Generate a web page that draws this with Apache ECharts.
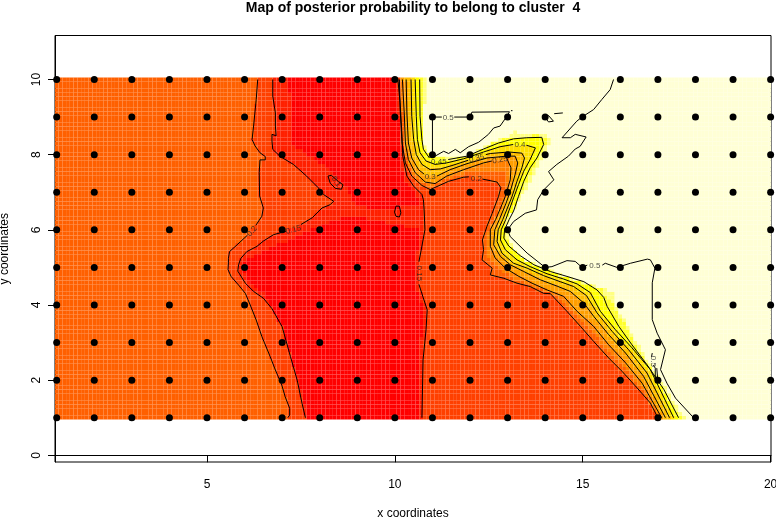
<!DOCTYPE html>
<html>
<head>
<meta charset="utf-8">
<title>Map of posterior probability</title>
<script src="https://cdn.jsdelivr.net/npm/echarts@6/dist/echarts.min.js"></script>
<style>
  html, body { margin: 0; padding: 0; background: #fff; }
  #chart { width: 776px; height: 518px; }
</style>
</head>
<body>
<div id="chart"></div>
<script>
// sampling sites
let siteX = [1, 2, 3, 4, 5, 6, 7, 8, 9, 10, 11, 12, 13, 14, 15, 16, 17, 18, 19, 20]
let siteY = [1, 2, 3, 4, 5, 6, 7, 8, 9, 10]
let xTicks = [5, 10, 15, 20]
let yTicks = [0, 2, 4, 6, 8, 10]

// contour lines, null = break for a label
let c15Left = [[6.75,10],[6.75,9.56],[6.82,9.11],[6.82,8.76],[6.84,8.5],[6.73,8.54],[6.73,8.36],[6.75,8.14],[6.95,7.95],[7.3,7.74],[7.65,7.43],[7.96,7.12],[8.1,6.94],[8.37,6.76],[8.28,6.67],[8.06,6.58],[7.8,6.32],[7.5,6.14],null,[7.1,5.96],[6.77,5.87],[6.5,5.7],[6.33,5.56],[6.06,5.42],[5.9,5.24],[5.84,5.07],[5.82,4.9],[6.02,4.58],[6.24,4.36],[6.5,4.18],[6.73,3.9],[7,3.42],[7.22,2.63],[7.4,2],[7.53,1.38],[7.62,1]]
let c20Left = [[6.35,10],[6.31,9.47],[6.24,8.76],[6.2,8.4],[6.28,8.23],[6.41,8.05],[6.55,7.95],[6.55,7.86],[6.41,7.86],[6.39,7.52],[6.4,6.9],[6.5,6.58],[6.46,6.36],[6.3,6.12],null,[6.08,5.86],[5.8,5.6],[5.6,5.42],[5.57,5.24],[5.57,5.12],[5.56,4.94],[5.64,4.76],[5.84,4.53],[6.02,4.31],[6.15,4],[6.31,3.6],[6.46,3.16],[6.68,2.63],[6.82,2.27],[6.99,1.87],[7.08,1.56],[7.2,1.25],[7.2,1.07],[7.15,1]]
let c15Right = [[10.08,10],[10.14,9.38],[10.19,8.49],[10.21,7.96],[10.32,7.43],[10.5,7.16],[10.72,6.94],[10.76,6.8],[10.78,6.5],[10.8,6],[10.7,5.46],[10.64,5.15],null,[10.64,4.55],[10.86,3.87],[10.83,3.34],[10.75,2.54],[10.72,1]]
let c20Right = [[10.12,10],[10.14,9.2],[10.19,8.31],[10.28,7.78],[10.45,7.43],[10.72,7.18],[10.94,7.07],[11.43,7.29],[11.83,7.4],[11.97,7.41],null,[12.33,7.35],[12.72,7.27],[12.82,7.12],[12.76,6.89],[12.59,6.44],[12.45,6.09],[12.33,5.73],[12.36,5.47],[12.32,5.2],[12.59,4.98],[12.54,4.8],[12.9,4.71],[13.25,4.58],[13.6,4.49],[13.96,4.31],[14.14,4.3],[14.58,3.83],[14.94,3.43],[15.29,3.03],[15.69,2.59],[16.05,2.23],[16.45,1.79],[16.8,1.39],[17,1]]
let c25 = [[10.2,10],[10.25,9.11],[10.28,8.31],[10.36,7.87],[10.54,7.52],[10.81,7.27],[11.07,7.23],[11.38,7.43],[11.83,7.6],[12.36,7.78],[12.58,7.83],null,[12.98,7.9],[13.03,7.91],[13.09,7.65],[13.07,7.33],[12.94,6.89],[12.85,6.67],[12.68,6.27],[12.54,6],[12.54,5.56],[12.67,5.25],[12.94,4.98],[13.3,4.76],[13.65,4.58],[14.05,4.4],[14.49,4.23],[14.85,3.83],[15.29,3.43],[15.69,2.94],[16.14,2.46],[16.58,1.92],[17.1,1]]
let c30 = [[10.3,10],[10.32,9.11],[10.36,8.31],[10.45,7.91],[10.63,7.6],[10.78,7.48],null,[11.12,7.43],[11.47,7.6],[11.92,7.76],[12.45,7.91],[12.98,7.96],[13.2,7.96],[13.27,7.78],[13.2,7.47],[13.07,7.02],[12.96,6.71],[12.78,6.27],[12.66,6],[12.63,5.6],[12.81,5.29],[13.07,5.07],[13.43,4.89],[13.87,4.67],[14.32,4.5],[14.67,4.36],[15.03,4.05],[15.29,3.7],[15.69,3.21],[16.14,2.72],[16.62,2.1],[17.2,1]]
let c35 = [[10.43,10],[10.45,9.02],[10.5,8.4],[10.57,8],[10.72,7.74],[10.94,7.6],[11.21,7.62],[11.52,7.71],[11.95,7.85],null,[12.42,8],[12.54,8.03],[13.03,8.07],[13.38,8.04],[13.45,7.91],[13.38,7.65],[13.25,7.29],[13.12,6.89],[12.87,6.27],[12.75,6],[12.72,5.69],[12.85,5.38],[13.16,5.11],[13.52,4.98],[13.96,4.78],[14.4,4.62],[14.76,4.49],[15.1,4.25],[15.38,3.79],[15.78,3.3],[16.22,2.81],[16.71,2.19],[17.31,1]]
let c40 = [[10.54,10],[10.57,9.02],[10.6,8.4],[10.67,8.05],[10.83,7.83],[11.07,7.74],[11.38,7.78],[11.83,7.89],[12.36,8.07],[12.8,8.21],[13.15,8.27],null,[13.5,8.25],[13.74,8.18],[13.6,7.87],[13.43,7.56],[13.29,7.2],[13.16,6.85],[12.95,6.27],[12.83,6],[12.81,5.73],[12.94,5.47],[13.25,5.2],[13.6,5.02],[14.05,4.83],[14.49,4.69],[14.85,4.56],[15.2,4.33],[15.47,3.83],[15.87,3.34],[16.31,2.86],[16.8,2.28],[17.42,1]]
let c45 = [[10.66,10],[10.67,9.02],[10.72,8.4],[10.76,8.14],[10.92,7.91],null,[11.42,7.87],[11.92,7.96],[12.36,8.15],[12.76,8.31],[13.16,8.42],[13.51,8.45],[13.91,8.46],[13.96,8.27],[13.78,7.91],[13.6,7.65],[13.43,7.29],[13.29,6.89],[13.16,6.5],[13.04,6.27],[12.92,6],[12.9,5.78],[13.03,5.57],[13.34,5.31],[13.7,5.07],[14.14,4.89],[14.58,4.76],[15.03,4.62],[15.38,4.4],[15.56,4.2],[15.65,3.96],[15.96,3.43],[16.31,2.94],[16.71,2.41],[17.16,1.75],[17.55,1]]
let c50Main = [[15.82,10],[15.73,9.73],[15.51,9.47],[15.29,9.2],[14.98,9],[14.84,8.89],[14.45,8.45],[14.45,8.43],[14.67,8.45],[14.8,8.54],[15.09,8.47],[14.93,8.22],[14.8,8.15],[14.62,7.96],[14.31,7.74],[14.09,7.55],[14.23,7.33],[13.96,7.06],[13.8,6.8],[13.77,6.53],[13.47,6.44],[13.16,6.22],[13,6],[13.07,5.82],[13.52,5.38],[14,5],[14.18,5.02],[14.58,5.18],[14.8,5.16],[14.98,5],[15.12,5.06],null,[15.52,5.06],[15.6,5.11],[15.91,5],[16.27,5.11],[16.72,5.22],[16.8,5.2],[16.92,4.98],[16.85,4.59],[16.85,3.61],[16.98,3.25],[17.2,2.81],[17.07,2.28],[17.24,1.92],[17.47,1.52],[17.95,1]]
let c50Box = [[11.25,9],[11,9],[11,8],[11.07,7.96],[11.3,8.09],[11.43,8.03],[11.61,8.14],[11.74,8.05],[11.96,8.21],[12.23,8.33],[12.49,8.54],[12.63,8.71],[12.8,8.76],[12.98,9.02],[13.05,9.14],[12.05,9.13],[12,9],[11.58,9]]
let c50Dot = [[13.09,9.17],[13.13,9.17]]
let c50Curl = [[14,9.02],[14.09,9.04],[14.22,8.89],[14.09,8.87],[14.02,8.96]]
let c50Dash = [[14.24,9.09],[14.47,9.11]]
let c50Small = [[16.85,2.72],[16.83,2.62],null,[16.88,2.4],[16.93,2.32],[16.93,2.08],[16.99,2.08],[16.97,2.32]]
let c10Curl = [[8.22,7.43],[8.31,7.45],[8.5,7.28],[8.62,7.2],[8.58,7.08],[8.42,7.1],[8.28,7.24],[8.22,7.43]]
let c15Loop = [[9.99,6.47],[10.03,6.63],[10.12,6.63],[10.16,6.45],[10.12,6.34],[10.03,6.36],[9.99,6.47]]

// colour edges that have no contour line
let edgeRedLeft = [[7.14,10],[7.26,9.29],[7.3,8.23],[8.01,7.78],[8.72,7.16],[8.95,6.58],[8.72,6.36],[8.01,6.1],[7.3,5.79],[6.42,5.39],[5.88,5.07],[6.06,4.67],[6.5,4.32],[6.9,3.6],[7.17,2.73],[7.44,2.02],[7.7,1]]
let edgeRedRight = [[10,10],[10.08,9.38],[10.12,8.49],[10.12,7.96],[10.22,7.43],[10.35,7.16],[10.6,6.9],[10.62,6.5],[10.7,6],[10.6,5.46],[10.55,5.15],[10.55,4.53],[10.75,3.87],[10.72,3.34],[10.65,2.54],[10.62,1]]
let edge225 = [[10.16,10],[10.2,9.11],[10.24,8.31],[10.32,7.82],[10.5,7.47],[10.77,7.22],[11,7.15],[11.4,7.36],[11.83,7.5],[12.36,7.56],[12.75,7.6],[12.95,7.55],[12.98,7.2],[12.9,6.85],[12.75,6.45],[12.58,6.1],[12.44,5.75],[12.45,5.5],[12.5,5.25],[12.75,4.98],[13.1,4.74],[13.45,4.58],[13.8,4.45],[14.15,4.32],[14.5,4.1],[14.9,3.63],[15.3,3.23],[15.7,2.77],[16.1,2.35],[16.5,1.86],[17.05,1]]
let edgeHaloIn = [[10.78,10],[10.7,8.76],[10.76,8.2],[10.98,7.93],[11.6,7.88],[12.15,8.04],[12.6,8.31],[13,8.45],[13.4,8.48],[13.85,8.52],[14.08,8.42],[13.95,8.12],[13.78,7.78],[13.55,7.34],[13.35,6.98],[13.2,6.63],[13,6.36],[12.95,6],[13.05,5.6],[13.45,5.2],[13.9,5],[14.45,4.78],[15,4.6],[15.5,4.42],[15.78,4.05],[16.05,3.6],[16.3,3.14],[16.58,2.65],[16.9,2.2],[17.25,1.57],[17.62,1]]
let edgeHaloOut = [[10.85,10],[10.75,8.76],[10.81,8.18],[11.03,7.96],[11.65,7.91],[12.18,8.09],[12.63,8.36],[13.03,8.51],[13.2,8.65],[13.38,8.51],[13.87,8.6],[14.2,8.45],[14.05,8.14],[13.87,7.78],[13.65,7.34],[13.43,6.98],[13.25,6.63],[13.03,6.36],[12.98,6],[13.12,5.56],[13.52,5.16],[13.96,5.02],[14.49,4.8],[15.03,4.62],[15.34,4.5],[15.83,4.36],[15.83,4.05],[16.09,3.65],[16.36,3.17],[16.62,2.68],[16.98,2.19],[17.33,1.57],[17.74,1]]
let patchMid = [[8.7,6.75],[9.4,6.55],[10.2,6.6],[10.7,6.7],[10.7,6],[10,6.15],[9.3,6.3],[8.8,6.35]]

// image colours, low to high
let bandColors = ['#FF0000', '#FF2000', '#FF4000', '#FF6000', '#FF8000', '#FF9F00', '#FFBF00', '#FFDF00', '#FFFF00', '#FFFF2A', '#FFFF80', '#FFFFD5']

// contour labels: x, y, text, rotation
let contourLabels = [
  [6.2, 5.96, '0.2', 50],
  [7.3, 6.0, '0.15', 15],
  [8.44, 7.28, '0.1', -55],
  [10.64, 4.84, '0.15', -90],
  [10.94, 7.41, '0.3', 0],
  [11.17, 7.82, '0.45', 0],
  [12.17, 7.36, '0.2', 0],
  [12.18, 7.9, '0.35', 15],
  [12.8, 7.86, '0.25', 10],
  [13.33, 8.25, '0.4', 0],
  [11.42, 8.98, '0.5', 0],
  [15.32, 5.03, '0.5', 0],
  [16.88, 2.5, '0.5', -90]
]

let contourLines = [c15Left, c20Left, c15Right, c20Right, c25, c30, c35, c40, c45, c50Main, c50Box, c50Dot, c50Curl, c50Dash, c50Small, c10Curl, c15Loop]

function clean(line) {
  return line.filter(p => p)
}
// line runs top to bottom, the band lies on one side of it
function regionLeft(line) {
  let l = clean(line)
  return [[l[0][0], 10.2]].concat(l, [[l[l.length - 1][0], 0.8], [0.8, 0.8], [0.8, 10.2]])
}
function regionRight(line) {
  let l = clean(line)
  return [[l[0][0], 10.2]].concat(l, [[l[l.length - 1][0], 0.8], [20.2, 0.8], [20.2, 10.2]])
}
function inside(poly, x, y) {
  let hit = false
  for (let i = 0, j = poly.length - 1; i < poly.length; j = i++) {
    let a = poly[i], b = poly[j]
    if ((a[1] > y) !== (b[1] > y) && x < (b[0] - a[0]) * (y - a[1]) / (b[1] - a[1]) + a[0]) hit = !hit
  }
  return hit
}

// band index -> regions where the value is at least that band
let bandRegions = [
  [1, [regionLeft(edgeRedLeft), regionRight(edgeRedRight), patchMid]],
  [2, [regionLeft(c15Left), regionRight(c15Right)]],
  [3, [regionLeft(c20Left), regionRight(c20Right)]],
  [4, [regionRight(edge225)]],
  [5, [regionRight(c25)]],
  [6, [regionRight(c30)]],
  [7, [regionRight(c35)]],
  [8, [regionRight(c40)]],
  [9, [regionRight(c45)]],
  [10, [regionRight(edgeHaloIn)]],
  [11, [regionRight(edgeHaloOut)]]
]

let cells = []
for (let i = 0; i <= 190; i++) {
  for (let j = 0; j <= 90; j++) {
    let x = 1 + i / 10, y = 1 + j / 10, band = 0
    bandRegions.forEach(b => {
      if (b[1].some(poly => inside(poly, x, y))) band = b[0]
    })
    cells.push([x, y, band])
  }
}

let points = []
siteX.forEach(x => siteY.forEach(y => points.push([x, y])))

let series = [{
  type: 'custom',
  z: 1,
  silent: true,
  clip: true,
  progressive: 0,
  animation: false,
  data: cells,
  encode: { x: 0, y: 1 },
  renderItem(params, api) {
    let a = api.coord([api.value(0) - 0.05, api.value(1) + 0.05])
    let b = api.coord([api.value(0) + 0.05, api.value(1) - 0.05])
    return {
      type: 'rect',
      shape: { x: a[0], y: a[1], width: b[0] - a[0], height: b[1] - a[1] },
      style: { fill: bandColors[api.value(2)] }
    }
  }
}]

contourLines.forEach(line => {
  series.push({
    type: 'line',
    z: 3,
    silent: true,
    animation: false,
    symbol: 'none',
    clip: false,
    lineStyle: { color: '#000', width: 1 },
    data: line.map(p => p || [null, null])
  })
})

series.push({
  type: 'scatter',
  z: 4,
  silent: true,
  animation: false,
  symbolSize: 0,
  data: contourLabels.map(l => ({
    value: [l[0], l[1]],
    label: {
      show: true,
      position: 'inside',
      formatter: l[2],
      rotate: l[3],
      fontSize: 8,
      fontFamily: 'Liberation Sans',
      color: '#222'
    }
  }))
})

series.push({
  type: 'scatter',
  z: 5,
  silent: true,
  animation: false,
  symbolSize: 7,
  itemStyle: { color: '#000', opacity: 1 },
  data: points
})

let chart = echarts.init(document.getElementById('chart'), null, { renderer: 'canvas' })
chart.setOption({
  animation: false,
  backgroundColor: '#fff',
  title: {
    text: 'Map of posterior probability to belong to cluster  4',
    left: 408,
    top: -4,
    textAlign: 'center',
    textStyle: { fontFamily: 'Liberation Sans', fontSize: 14, fontWeight: 'bold', color: '#000' }
  },
  grid: { left: 55, right: 5, top: 35.5, bottom: 56, outerBoundsMode: 'none', show: true, borderColor: '#000', borderWidth: 1, backgroundColor: '#fff' },
  xAxis: {
    type: 'value',
    min: 0.955,
    max: 20.01,
    name: 'x coordinates',
    nameLocation: 'middle',
    nameGap: 46,
    nameTextStyle: { fontFamily: 'Liberation Sans', fontSize: 12, color: '#000' },
    axisLine: { lineStyle: { color: '#000' } },
    axisTick: { length: 7, lineStyle: { color: '#000' }, customValues: xTicks },
    axisLabel: { customValues: xTicks, margin: 17, fontFamily: 'Liberation Sans', fontSize: 12, color: '#000' },
    splitLine: { show: false }
  },
  yAxis: {
    type: 'value',
    min: -0.178,
    max: 11.17,
    name: 'y coordinates',
    nameLocation: 'middle',
    nameGap: 44,
    nameTextStyle: { fontFamily: 'Liberation Sans', fontSize: 12, color: '#000' },
    axisLine: { lineStyle: { color: '#000' } },
    axisTick: { length: 7, lineStyle: { color: '#000' }, customValues: yTicks },
    axisLabel: { customValues: yTicks, rotate: 90, margin: 12, fontFamily: 'Liberation Sans', fontSize: 12, color: '#000' },
    splitLine: { show: false }
  },
  series: series
})
</script>
</body>
</html>
